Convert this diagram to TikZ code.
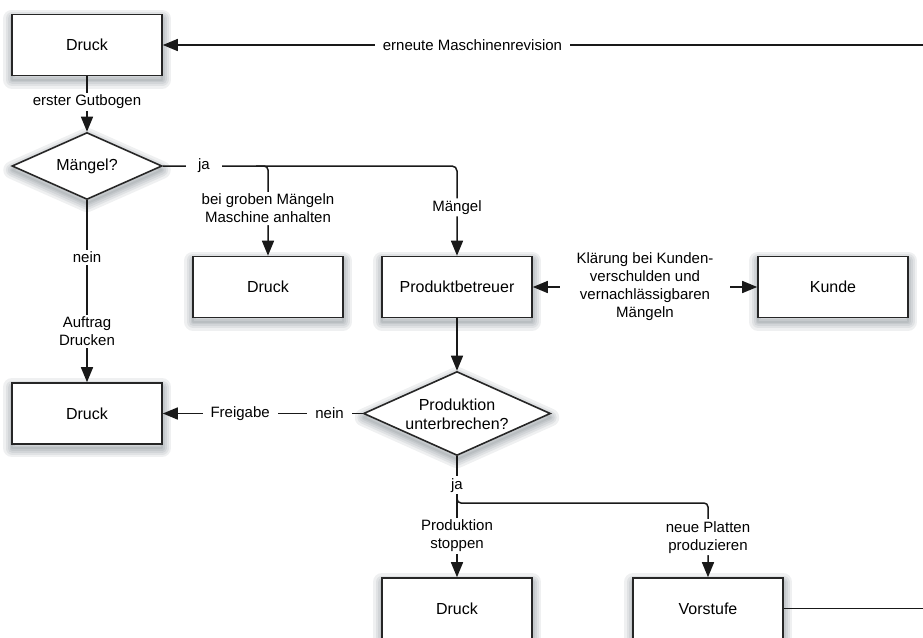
\documentclass[tikz,border=0pt]{standalone}
\usepackage{fontspec}
\setmainfont{Liberation Sans}
\usetikzlibrary{arrows.meta,shapes.geometric,calc}

\definecolor{shadowtone}{RGB}{30,50,60}

\begin{document}
\begin{tikzpicture}[x=1pt,y=-1pt,
  % soft drop shadow built from stacked translucent strokes
  shadowlayer/.style={preaction={draw=shadowtone, line width=#1, draw opacity=0.07,
      line join=round, transform canvas={yshift=-4pt}}},
  softshadow/.style={shadowlayer=18pt, shadowlayer=13pt, shadowlayer=9pt,
      shadowlayer=5pt, shadowlayer=2pt},
  box/.style={draw=black!85, line width=1.6pt, fill=white, softshadow,
      minimum width=150pt, minimum height=61pt, inner sep=0pt,
      font=\fontsize{16}{19}\selectfont},
  decision/.style={diamond, draw=black!85, line width=1.6pt, fill=white, softshadow,
      minimum width=150pt, minimum height=67pt, inner sep=0pt},
  boxtext/.style={align=center, inner sep=0pt, font=\fontsize{16}{19}\selectfont},
  lbl/.style={fill=white, inner xsep=8pt, inner ysep=2pt, align=center,
      font=\fontsize{15}{18}\selectfont},
  line/.style={line width=1.5pt, draw=black!90},
  tip/.tip={Triangle[length=15pt,width=12pt]},
  arr/.style={line, -tip},
  arrboth/.style={line, tip-tip}]

\clip (0,0) rectangle (923,637);
\fill[white] (0,0) rectangle (923,637);

% process boxes and decisions
\node[box] (d1) at (87,45) {Druck};
\node[decision] (m1) at (87,166) {};
\node[boxtext] (m1t) at (m1) {Mängel?};
\node[box] (d2) at (268,287) {Druck};
\node[box] (pb) at (457,287) {Produktbetreuer};
\node[box] (ku) at (833,287) {Kunde};
\node[box] (d3) at (87,413.5) {Druck};
\node[decision, minimum width=187pt, minimum height=84pt] (q2) at (457,413.5) {};
\node[boxtext] (q2t) at ($(q2)+(0,1)$) {Produktion\\unterbrechen?};
\node[box] (d4) at (457,608.5) {Druck};
\node[box] (vs) at (708,608.5) {Vorstufe};

% loose ends leaving the drawing area
\coordinate (revR) at (935,45);
\coordinate (vsR) at (935,608.5);
\coordinate (br2) at (457,503);

% connectors
\draw[arr] (revR) -- node[lbl,pos=0.599]{erneute Maschinenrevision} (d1.east);
\draw[arr] (d1.south) -- node[lbl,pos=0.465]{erster Gutbogen} (m1.north);
\draw[arr] (m1.south) -- node[lbl,pos=0.312]{nein}
  node[lbl,pos=0.72]{Auftrag\\Drucken} (d3.north);
\draw[arr, rounded corners=5pt] (m1.east)
  -- node[lbl,pos=0.14,inner xsep=12pt]{ja} (pb.north |- m1.east)
  -- node[lbl,pos=0.46]{Mängel} (pb.north);
\draw[arr, rounded corners=4pt] ($(d2.north |- m1.east)+(-12,0)$)
  -- (d2.north |- m1.east)
  -- node[lbl,pos=0.475]{bei groben Mängeln\\Maschine anhalten} (d2.north);
\draw[arrboth] (pb.east) -- node[lbl,inner xsep=17pt]{Klärung bei Kunden-\\verschulden und\\vernachlässigbaren\\Mängeln} (ku.west);
\draw[arr] (pb.south) -- (q2.north);
\draw[arr] (q2.west) -- node[lbl,pos=0.166]{nein}
  node[lbl,pos=0.613]{Freigabe} (d3.east);
\draw[arr] (q2.south) -- node[lbl,pos=0.24]{ja}
  node[lbl,pos=0.657]{Produktion\\stoppen} (d4.north);
\draw[arr, rounded corners=4pt] ($(br2)+(0,-8)$) -- (br2) -- (vs.north |- br2)
  -- node[lbl,pos=0.46]{neue Platten\\produzieren} (vs.north);
\draw[line] (vs.east) -- (vsR);

\end{tikzpicture}
\end{document}
